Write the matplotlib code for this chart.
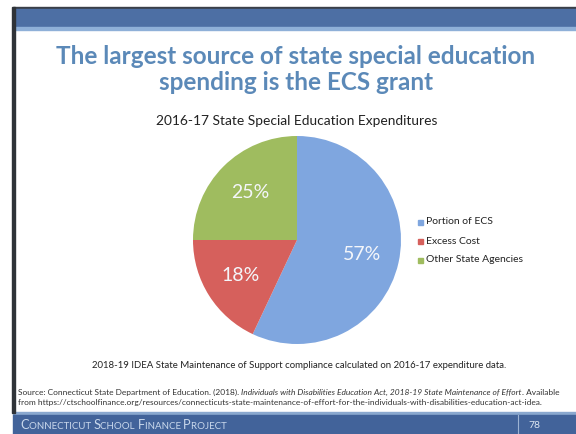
import matplotlib
matplotlib.use("Agg")
import matplotlib.pyplot as plt
from matplotlib.patches import Rectangle

# Data
categories = ["Portion of ECS", "Excess Cost", "Other State Agencies"]
shares = [57, 18, 25]
colors = ["#7fa6df", "#d6605c", "#9fbc5f"]

title_lines = ["The largest source of state special education", "spending is the ECS grant"]
chart_title = "2016-17 State Special Education Expenditures"
footnote = "2018-19 IDEA State Maintenance of Support compliance calculated on 2016-17 expenditure data."
source_parts = [
    ("Source: Connecticut State Department of Education. (2018). ", "normal"),
    ("Individuals with Disabilities Education Act, 2018-19 State Maintenance of Effort", "italic"),
    (". Available", "normal"),
]
source_line2 = "from https://ctschoolfinance.org/resources/connecticuts-state-maintenance-of-effort-for-the-individuals-with-disabilities-education-act-idea."
footer_words = ["Connecticut", "School", "Finance", "Project"]
page_no = "78"

W, H = 576, 434
fig = plt.figure(figsize=(W / 100, H / 100), dpi=100)
fig.patch.set_facecolor("white")
FONT = "Lato"


def px(x, y):
    return x / W, 1 - y / H


# slide frame
bg = fig.add_axes([0, 0, 1, 1])
bg.set_xlim(0, W)
bg.set_ylim(H, 0)
bg.axis("off")
bg.add_patch(Rectangle((13, 7), W - 13, 2, color="#3a3f48", zorder=1))
bg.add_patch(Rectangle((13, 9), W - 13, 18, color="#4d6fa4", zorder=1))
bg.add_patch(Rectangle((13, 27), W - 13, 3, color="#8fb0d8", zorder=1))
bg.add_patch(Rectangle((12, 7), 2.5, 406, color="#2f3338", zorder=2))
bg.add_patch(Rectangle((13, 412), W - 13, 3, color="#8aa8cf", zorder=1))
bg.add_patch(Rectangle((13, 415), W - 13, 19, color="#42639a", zorder=1))
bg.plot([518, 518], [415, 434], color="#9db3d3", lw=0.8, zorder=3)

# headline
fig.text(*px(296, 56), title_lines[0], ha="center", va="center",
         fontsize=17.5, fontweight="bold", color="#5b89b8", family=FONT)
fig.text(*px(296, 82), title_lines[1], ha="center", va="center",
         fontsize=17.5, fontweight="bold", color="#5b89b8", family=FONT)
fig.text(*px(297, 121), chart_title, ha="center", va="center",
         fontsize=9.9, color="#222222", family=FONT)

# pie
cx, cy, r = 297, 240, 104
ax = fig.add_axes([(cx - r) / W, (H - cy - r) / H, 2 * r / W, 2 * r / H])
wedges, texts, autotexts = ax.pie(
    shares, colors=colors, startangle=90, counterclock=False,
    autopct=lambda p: f"{p:.0f}%", pctdistance=0.64,
    textprops=dict(color="#f4f6fa", fontsize=14, family=FONT),
    wedgeprops=dict(linewidth=0),
)
ax.set_xlim(-1, 1)
ax.set_ylim(-1, 1)
ax.set_aspect("equal")

# legend
for i, (cat, col) in enumerate(zip(categories, colors)):
    y = 222 + 19 * i
    bg.add_patch(Rectangle((418, y - 2.5), 5, 5, color=col, zorder=3))
    bg.text(426, y, cat, ha="left", va="center", fontsize=7.5,
            color="#222222", family=FONT)

# notes
fig.text(*px(299, 366), footnote, ha="center", va="center",
         fontsize=6.9, color="#222222", family=FONT)

fig.canvas.draw()
renderer = fig.canvas.get_renderer()
x = 18
for text, style in source_parts:
    t = bg.text(x, 395, text, ha="left", va="baseline", fontsize=6.0,
                style=style, color="#333333", family=FONT)
    x += t.get_window_extent(renderer).width
bg.text(18, 405, source_line2, ha="left", va="baseline", fontsize=6.0,
        color="#333333", family=FONT)

# footer in small capitals
x = 20
for word in footer_words:
    t = bg.text(x, 429, word[0], ha="left", va="baseline", fontsize=9.3,
                color="#c9d8ec", family=FONT)
    x += t.get_window_extent(renderer).width
    t = bg.text(x, 429, word[1:].upper() + " ", ha="left", va="baseline",
                fontsize=7.0, color="#c9d8ec", family=FONT)
    x += t.get_window_extent(renderer).width
bg.text(534, 428, page_no, ha="center", va="baseline", fontsize=7.5,
        color="#dde6f2", family=FONT)

fig.savefig("out.png", dpi=100, facecolor="white")
